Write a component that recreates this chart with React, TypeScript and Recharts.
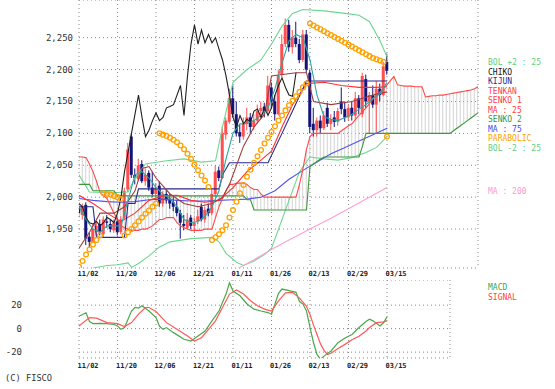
import { ComposedChart, Bar, Line, XAxis, YAxis, CartesianGrid } from 'recharts';

// x axis: trading-day index, one label every 11 sessions
const dateTicks = [0, 11, 22, 33, 44, 55, 66, 77, 88];
const dateLabels = ['11/02', '11/20', '12/06', '12/21', '01/11', '01/26', '02/13', '02/29', '03/15'];
const priceTicks = [1950, 2000, 2050, 2100, 2150, 2200, 2250];
const macdTicks = [-20, 0, 20];

const candleOpen = [
  1985, 1972, 1988, 1938, 1930, 1945, 1958, 1942, 1962, 1958,
  1948, 1962, 1945, 1968, 2012, 2095, 2035, 2028, 2052, 2025,
  2038, 2015, 2005, 2018, 1990, 2005, 1998, 1992, 1985, 1975,
  1958, 1952, 1968, 1955, 1962, 1985, 1965, 1982, 1975, 2005,
  2042, 2030, 2098, 2118, 2155, 2130, 2102, 2095, 2115, 2125,
  2110, 2120, 2135, 2142, 2135, 2172, 2150, 2130, 2192, 2240,
  2270, 2235, 2250, 2240, 2215, 2255, 2195, 2115, 2105, 2120,
  2108, 2140, 2115, 2125, 2118, 2150, 2138, 2125, 2140, 2128,
  2155, 2130, 2185, 2150, 2160, 2145, 2170, 2160, 2212,
];
const candleHigh = [
  1992, 1990, 1992, 1945, 1958, 1962, 1965, 1970, 1972, 1965,
  1965, 1968, 1970, 2015, 2085, 2100, 2045, 2060, 2058, 2045,
  2042, 2040, 2022, 2025, 2010, 2012, 2005, 2000, 1995, 1980,
  1972, 1975, 1972, 1968, 1980, 1990, 1985, 1990, 2012, 2050,
  2048, 2110, 2125, 2170, 2175, 2150, 2115, 2125, 2140, 2132,
  2130, 2145, 2150, 2148, 2190, 2180, 2160, 2200, 2255, 2280,
  2278, 2262, 2275, 2248, 2262, 2262, 2200, 2140, 2125, 2128,
  2135, 2148, 2130, 2135, 2140, 2172, 2150, 2145, 2150, 2165,
  2160, 2195, 2192, 2165, 2175, 2182, 2178, 2212, 2225,
];
const candleLow = [
  1968, 1965, 1925, 1922, 1928, 1940, 1940, 1938, 1952, 1945,
  1944, 1940, 1942, 1965, 2008, 2030, 2020, 2025, 2022, 2018,
  2010, 2000, 2000, 1985, 1985, 1990, 1982, 1978, 1970, 1935,
  1948, 1950, 1950, 1945, 1958, 1962, 1960, 1970, 1972, 2000,
  2025, 2028, 2090, 2115, 2125, 2095, 2085, 2090, 2105, 2100,
  2105, 2115, 2128, 2125, 2130, 2140, 2120, 2128, 2188, 2235,
  2228, 2225, 2235, 2210, 2212, 2195, 2100, 2095, 2095, 2100,
  2105, 2110, 2105, 2110, 2112, 2130, 2118, 2120, 2120, 2122,
  2130, 2125, 2140, 2100, 2140, 2100, 2150, 2158, 2192,
];
const candleClose = [
  1975, 1985, 1935, 1930, 1950, 1955, 1945, 1965, 1960, 1950,
  1960, 1945, 1965, 2010, 2075, 2035, 2030, 2050, 2025, 2035,
  2015, 2005, 2015, 1990, 2005, 1995, 1990, 1985, 1975, 1960,
  1955, 1965, 1955, 1960, 1970, 1965, 1980, 1975, 2005, 2040,
  2030, 2100, 2120, 2155, 2130, 2100, 2095, 2115, 2125, 2110,
  2120, 2135, 2140, 2135, 2175, 2150, 2130, 2190, 2240, 2270,
  2235, 2250, 2240, 2215, 2255, 2200, 2110, 2105, 2120, 2108,
  2128, 2115, 2122, 2118, 2135, 2138, 2125, 2140, 2128, 2155,
  2140, 2190, 2150, 2160, 2145, 2170, 2160, 2205, 2198,
];

// lagging span, drawn 26 sessions back
const chiko = [
  1990, 1985, 1968, 1960, 1958, 1962, 1955, 1960, 1968, 1965,
  1960, 1975, 2000, 2040, 2070, 2100, 2130, 2160, 2125, 2095,
  2105, 2120, 2132, 2120, 2125, 2140, 2142, 2145, 2160, 2175,
  2128, 2190, 2240, 2270, 2240, 2262, 2242, 2255, 2242, 2250,
  2232, 2215, 2190, 2160, 2125, 2110, 2128, 2115, 2122, 2118,
  2135, 2138, 2125, 2140, 2128, 2140, 2160, 2175, 2187, 2172,
  2160, 2158, 2195,
];

// leading spans, 26 sessions ahead of the last candle
const senko1 = [
  2063, 2063, 2062, 2052, 2040, 2025, 2008, 2002, 1998, 1986,
  1975, 1965, 1955, 1952, 1950, 1948, 1948, 1948, 1950, 1950,
  1952, 1955, 1960, 1965, 1965, 1968, 1968, 1968, 1960, 1955,
  1952, 1950, 1948, 1948, 1948, 1948, 1950, 1950, 1950, 1968,
  1985, 1998, 2010, 2020, 2020, 2022, 2022, 2022, 2020, 2015,
  2012, 2012, 2005, 2000, 2000, 2000, 2000, 2000, 2000, 2000,
  2000, 2000, 2000, 2020, 2045, 2075, 2095, 2100, 2100, 2100,
  2100, 2100, 2100, 2100, 2100, 2104, 2108, 2112, 2115, 2122,
  2128, 2134, 2140, 2147, 2154, 2160, 2165, 2170, 2176, 2183,
  2189, 2176, 2175, 2174, 2174, 2174, 2173, 2173, 2173, 2157,
  2158, 2159, 2159, 2160, 2160, 2161, 2162, 2163, 2164, 2165,
  2166, 2167, 2168, 2170, 2173,
];
const senko2 = [
  2020, 2020, 2020, 2020, 2010, 2010, 2010, 2010, 2010, 2010,
  2010, 2002, 2002, 2002, 2002, 2002, 2002, 2002, 2002, 2002,
  2002, 2002, 2002, 2002, 2002, 2002, 2002, 2002, 2002, 2002,
  2002, 2002, 2002, 2002, 2002, 2002, 2002, 2002, 2002, 2002,
  2002, 2002, 2002, 2002, 2002, 2002, 2002, 2002, 1996, 1996,
  1980, 1980, 1980, 1980, 1980, 1980, 1980, 1980, 1980, 1980,
  1980, 1980, 1980, 1980, 1980, 1980, 2048, 2052, 2056, 2060,
  2063, 2063, 2063, 2063, 2063, 2063, 2063, 2063, 2063, 2063,
  2063, 2080, 2100, 2100, 2100, 2100, 2100, 2100, 2100, 2100,
  2100, 2100, 2100, 2100, 2100, 2100, 2100, 2100, 2100, 2100,
  2100, 2100, 2100, 2100, 2100, 2100, 2100, 2104, 2108, 2112,
  2116, 2120, 2124, 2128, 2132,
];

const parabolic = [
  1891, 1900, 1910, 1918, 1926, 1933, 1940, 2006, 2005, 2004,
  2002, 2000, 1997, 1940, 1945, 1950, 1956, 1962, 1968, 1974,
  1979, 1985, 1990, 2100, 2098, 2096, 2093, 2090, 2086, 2081,
  2075, 2068, 2060, 2051, 2042, 2034, 2026, 2016, 1933, 1937,
  1942, 1948, 1956, 1968, 1980, 1993, 2006, 2019, 2032, 2043,
  2054, 2064, 2074, 2084, 2093, 2102, 2111, 2120, 2128, 2136,
  2144, 2151, 2158, 2165, 2172, 2178, 2272, 2269, 2266, 2263,
  2260, 2257, 2254, 2251, 2248, 2245, 2242, 2239, 2236, 2233,
  2230, 2227, 2224, 2221, 2218, 2216, 2214, 2212, 2095,
];

// [session, value] readings of the smoother lines
const bolUpper: [number, number][] = [
  [0, 2035], [3, 2008], [9, 2007], [14, 2008], [16, 2030], [19, 2052], [25, 2057], [30, 2060],
  [35, 2055], [39, 2057], [41, 2110], [44, 2180], [48, 2200], [52, 2215], [55, 2240], [58, 2268],
  [61, 2288], [64, 2294], [70, 2292], [76, 2288], [80, 2285], [83, 2275], [86, 2245], [88, 2220],
];
const bolLower: [number, number][] = [
  [4, 1889], [8, 1893], [11, 1894], [14, 1897], [15, 1890], [17, 1896], [20, 1908], [23, 1922],
  [26, 1930], [32, 1935], [38, 1937], [40, 1930], [42, 1912], [45, 1898], [47, 1893], [50, 1900],
  [53, 1910], [55, 1920], [57, 1950], [60, 1995], [63, 2040], [66, 2063], [70, 2060], [74, 2058],
  [78, 2062], [82, 2070], [85, 2078], [88, 2095],
];
const ma25: [number, number][] = [
  [0, 2003], [4, 1990], [8, 1975], [12, 1962], [16, 1975], [20, 1995], [24, 2002], [28, 2003],
  [32, 1995], [36, 1992], [40, 1995], [44, 2015], [48, 2040], [52, 2058], [55, 2072], [58, 2110],
  [61, 2145], [65, 2178], [70, 2180], [75, 2175], [80, 2172], [85, 2172], [88, 2173],
];
const ma75: [number, number][] = [
  [0, 1998], [4, 1995], [8, 1993], [12, 1992], [16, 1993], [20, 1996], [24, 1997], [28, 1995],
  [32, 1994], [36, 1994], [40, 1995], [44, 1996], [48, 1997], [52, 2000], [56, 2010], [60, 2028],
  [64, 2042], [68, 2055], [72, 2068], [76, 2078], [80, 2088], [84, 2098], [88, 2108],
];
const ma200: [number, number][] = [
  [44, 1884], [47, 1893], [50, 1902], [55, 1918], [60, 1933], [66, 1950], [72, 1967], [78, 1985],
  [84, 2003], [88, 2015],
];
const kijun: [number, number][] = [
  [0, 1985], [4, 1985], [5, 1937], [13, 1937], [14, 1990], [16, 1990], [17, 2013], [40, 2013],
  [41, 2035], [43, 2054], [54, 2054], [58, 2100], [61, 2135], [65, 2182], [88, 2182],
];
const tenkan: [number, number][] = [
  [0, 1920], [3, 1945], [6, 1975], [10, 1975], [13, 1985], [16, 2010], [18, 2045], [20, 2048],
  [22, 2030], [26, 2005], [30, 1990], [34, 1985], [38, 1990], [41, 2000], [43, 2020], [47, 2080],
  [50, 2110], [53, 2130], [55, 2190], [62, 2195], [65, 2195], [67, 2150], [72, 2145], [78, 2150],
  [84, 2160], [88, 2165],
];
const ma5: [number, number][] = [
  [0, 1985], [2, 1965], [4, 1950], [6, 1945], [8, 1955], [10, 1955], [12, 1955], [14, 1995],
  [16, 2035], [18, 2040], [20, 2030], [22, 2015], [24, 2005], [26, 1998], [28, 1985], [30, 1965],
  [32, 1960], [34, 1962], [36, 1970], [38, 1985], [40, 2010], [42, 2060], [44, 2100], [46, 2115],
  [48, 2115], [50, 2120], [52, 2128], [54, 2140], [56, 2170], [58, 2210], [60, 2245], [62, 2255],
  [64, 2250], [66, 2215], [68, 2160], [70, 2126], [72, 2122], [74, 2120], [76, 2125], [78, 2130],
  [80, 2138], [82, 2145], [84, 2155], [86, 2162], [88, 2180],
];

const macd: [number, number][] = [
  [0, 10.5], [2, 13.5], [3, 6], [4, 4.3], [6, 4.5], [8, 4.3], [10, 3.5], [11, 2.3], [12, -0.6],
  [13, 0.9], [15, 15], [16, 18], [17, 17.5], [18, 19.4], [20, 15], [22, 9.4], [23, 2], [24, -0.6],
  [25, 0.9], [27, -3.4], [30, -9], [32, -10.6], [34, -6.3], [36, -2], [38, 6.6], [40, 15],
  [42, 29.4], [43, 39], [44, 32], [46, 28], [48, 21], [50, 16.6], [52, 15], [54, 13.7], [55, 12.3],
  [56, 21], [57, 30], [58, 33.7], [60, 32.3], [62, 30.9], [63, 23], [64, 20.9], [65, 15], [66, 1],
  [67, -12], [68, -22], [69, -26], [70, -23.4], [72, -19], [74, -12], [76, -8], [78, -5], [80, 1],
  [82, 6], [83, 8], [84, 6.6], [86, 2.3], [87, 5], [88, 10],
];
const signal: [number, number][] = [
  [0, 2.3], [3, 9.4], [5, 8.9], [8, 5.1], [11, 4.3], [13, 1.7], [15, 5.1], [17, 12.3], [19, 18],
  [20, 18], [22, 14.5], [25, 5.1], [28, -0.6], [31, -6.3], [33, -10.6], [35, -7.7], [37, -0.6],
  [39, 6.6], [41, 18], [43, 29.4], [45, 32.9], [47, 29.4], [49, 23.7], [51, 19.4], [53, 16.6],
  [55, 15], [57, 23.7], [59, 30.5], [61, 30.9], [63, 26], [65, 19], [66, 12], [67, 3], [68, -5],
  [69, -13], [70, -18.5], [71, -22], [72, -21], [74, -17], [76, -13.4], [78, -9.5], [80, -6.5],
  [82, -2], [83, 1], [85, 5.1], [87, 5.7], [88, 6.6],
];

const MONO = '"DejaVu Sans Mono", monospace';

type Row = { [k: string]: number | null | undefined };

const put = (rows: Row[], key: string, pts: [number, number][]) => {
  pts.forEach(([i, v]) => {
    rows[i][key] = v;
  });
};

const mainRows: Row[] = senko1.map((s1, i) => ({
  i,
  open: i < candleOpen.length ? candleOpen[i] : null,
  high: i < candleHigh.length ? candleHigh[i] : null,
  low: i < candleLow.length ? candleLow[i] : null,
  close: i < candleClose.length ? candleClose[i] : null,
  chiko: i < chiko.length ? chiko[i] : null,
  sar: i < parabolic.length ? parabolic[i] : null,
  s1,
  s2: senko2[i],
}));
put(mainRows, 'bolUp', bolUpper);
put(mainRows, 'bolLo', bolLower);
put(mainRows, 'ma25', ma25);
put(mainRows, 'ma75', ma75);
put(mainRows, 'ma200', ma200);
put(mainRows, 'kijun', kijun);
put(mainRows, 'tenkan', tenkan);
put(mainRows, 'ma5', ma5);

const macdRows: Row[] = [];
for (let i = 0; i <= 106; i++) macdRows.push({ i });
put(macdRows, 'macd', macd);
put(macdRows, 'signal', signal);

const candleRange = (r: Row) => (r.high == null ? null : [r.low, r.high]);
const cloudRange = (r: Row) =>
  r.s1 == null || r.s2 == null ? null : [Math.min(r.s1, r.s2), Math.max(r.s1, r.s2)];

const CandleShape = (props: any) => {
  const { x, y, width, height, payload } = props;
  if (!payload || payload.high == null) return null;
  const top = Math.min(y, y + height);
  const h = Math.abs(height);
  const k = h / (payload.high - payload.low || 1);
  const cx = x + width / 2;
  const bodyTop = top + (payload.high - Math.max(payload.open, payload.close)) * k;
  const bodyH = Math.max(1, Math.abs(payload.open - payload.close) * k);
  const color = payload.close >= payload.open ? '#ff4f4f' : '#13137a';
  return (
    <g>
      <line x1={cx} x2={cx} y1={top} y2={top + h} stroke={color} strokeWidth={1} />
      <rect x={cx - 1.5} y={bodyTop} width={3} height={bodyH} fill={color} />
    </g>
  );
};

const HatchShape = (props: any) => {
  const { x, y, width, height } = props;
  const cx = x + width / 2;
  return <line x1={cx} x2={cx} y1={y} y2={y + height} stroke="#c6c6c6" strokeWidth={0.8} />;
};

const SarDot = (p: any) => {
  if (p.value == null || p.cy == null || isNaN(p.cy)) return <g key={p.index} />;
  return <circle key={p.index} cx={p.cx} cy={p.cy} r={2.4} fill="none" stroke="#ffa200" strokeWidth={1.3} />;
};

const DateTick = ({ x, payload, base }: any) => (
  <text x={x - 1.5} y={base} fontSize={7} fontWeight="bold" fontFamily={MONO} fill="#222">
    {dateLabels[dateTicks.indexOf(payload.value)]}
  </text>
);

const PriceTick = ({ y, payload }: any) => (
  <text x={73} y={y + 3} textAnchor="end" fontSize={9} fontFamily={MONO} fill="#333">
    {payload.value.toLocaleString('en-US')}
  </text>
);

const MacdTick = ({ y, payload }: any) => (
  <text x={22} y={y + 3} textAnchor="end" fontSize={9} fontFamily={MONO} fill="#333">
    {payload.value}
  </text>
);

// series names down the right-hand side, one per row
const legend = [
  { t: 'BOL +2 : 25', c: '#5fcf82', y: 65 },
  { t: 'CHIKO', c: '#111111', y: 74.5 },
  { t: 'KIJUN', c: '#2a2a99', y: 84 },
  { t: 'TENKAN', c: '#ff4040', y: 93.5 },
  { t: 'SENKO 1', c: '#ff4040', y: 103 },
  { t: 'MA : 25', c: '#ff4040', y: 112.5 },
  { t: 'SENKO 2', c: '#3c963c', y: 122 },
  { t: 'MA : 75', c: '#4a4af5', y: 131.5 },
  { t: 'PARABOLIC', c: '#ffa200', y: 141 },
  { t: 'BOL -2 : 25', c: '#5fcf82', y: 150.5 },
  { t: 'MA : 200', c: '#ff99cc', y: 194 },
  { t: 'MACD', c: '#3fa53f', y: 290 },
  { t: 'SIGNAL', c: '#ff4040', y: 300 },
];

const line = (key: string, color: string, width = 1.1) => (
  <Line
    key={key}
    dataKey={key}
    stroke={color}
    strokeWidth={width}
    dot={false}
    activeDot={false}
    connectNulls
    isAnimationActive={false}
  />
);

export default function App() {
  return (
    <div style={{ position: 'absolute', left: 0, top: 0, width: 555, height: 389, background: '#fff' }}>
      <div style={{ position: 'absolute', left: 0, top: 0 }}>
        <ComposedChart
          width={555}
          height={285}
          data={mainRows}
          margin={{ top: 0, right: 77, bottom: 0, left: 0 }}
          barGap={-3}
        >
          <CartesianGrid stroke="#888" strokeDasharray="1 3" />
          <XAxis
            type="number"
            dataKey="i"
            domain={[0, 114]}
            ticks={dateTicks}
            interval={0}
            height={17}
            axisLine={false}
            tickLine={false}
            allowDataOverflow
            tick={<DateTick base={276} />}
          />
          <YAxis
            type="number"
            domain={[1889, 2309]}
            ticks={priceTicks}
            interval={0}
            width={79}
            axisLine={false}
            tickLine={false}
            allowDataOverflow
            tick={<PriceTick />}
          />
          <Bar dataKey={cloudRange} barSize={3} shape={<HatchShape />} isAnimationActive={false} />
          {line('bolUp', '#6cd690')}
          {line('bolLo', '#6cd690')}
          {line('ma200', '#ff9fd0')}
          {line('ma75', '#5252f2')}
          {line('s2', '#3c963c')}
          {line('s1', '#ff4a4a')}
          {line('ma25', '#ff3030')}
          {line('kijun', '#29298f')}
          {line('tenkan', '#a03c3c')}
          {line('ma5', '#2ea6a0')}
          {line('chiko', '#202020')}
          <Bar dataKey={candleRange} barSize={3} shape={<CandleShape />} isAnimationActive={false} />
          <Line
            dataKey="sar"
            stroke="none"
            dot={SarDot}
            activeDot={false}
            isAnimationActive={false}
          />
        </ComposedChart>
      </div>
      <div style={{ position: 'absolute', left: 0, top: 280 }}>
        <ComposedChart width={555} height={96} data={macdRows} margin={{ top: 0, right: 105, bottom: 0, left: 0 }}>
          <CartesianGrid stroke="#888" strokeDasharray="1 3" />
          <XAxis
            type="number"
            dataKey="i"
            domain={[0, 106]}
            ticks={dateTicks}
            interval={0}
            height={18}
            axisLine={false}
            tickLine={false}
            tick={<DateTick base={87.5} />}
          />
          <YAxis
            type="number"
            domain={[-25, 41.4]}
            ticks={macdTicks}
            interval={0}
            width={79}
            axisLine={false}
            tickLine={false}
            allowDataOverflow
            tick={<MacdTick />}
          />
          {line('macd', '#4aa84a', 1.2)}
          {line('signal', '#ff5a5a', 1.2)}
        </ComposedChart>
      </div>
      <svg width={555} height={389} style={{ position: 'absolute', left: 0, top: 0, pointerEvents: 'none' }}>
        {legend.map((l) => (
          <text key={l.t} x={488} y={l.y} fontSize={8} fontFamily={MONO} fill={l.c}>
            {l.t}
          </text>
        ))}
        <text x={5} y={381} fontSize={8.7} fontFamily={MONO} fill="#333">
          (C) FISCO
        </text>
      </svg>
    </div>
  );
}
